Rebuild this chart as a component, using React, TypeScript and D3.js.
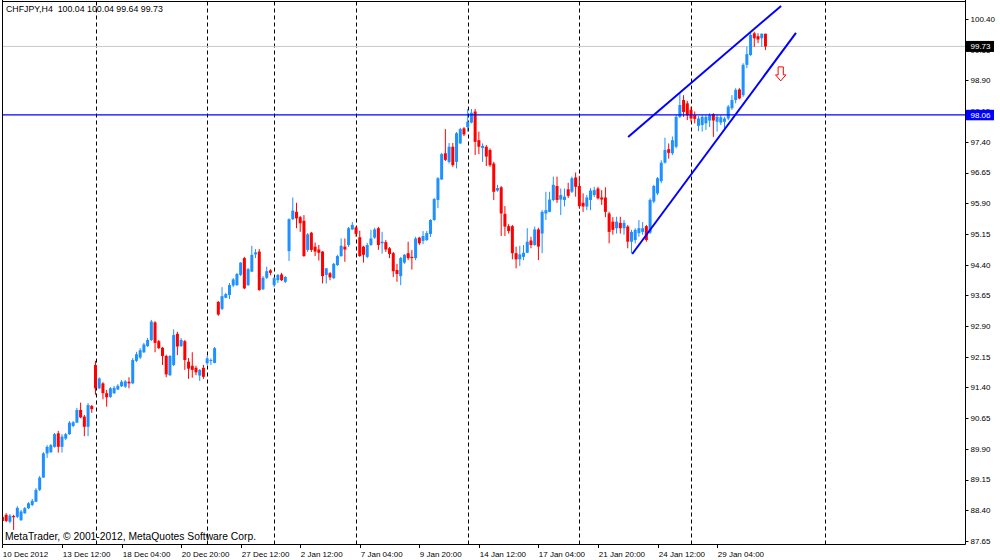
import React from 'react';
import * as d3 from 'd3';

const symbol = 'CHFJPY';
const timeframe = 'H4';

// H4 candles (bar 0 = left edge)
const opens = [
  88.24, 88.29, 88.12, 88.26, 88.24, 88.16, 88.33, 88.45, 88.53, 88.61,
  88.90, 89.20, 89.79, 89.82, 89.95, 90.28, 89.95, 90.15, 90.26, 90.46,
  90.54, 90.85, 90.69, 90.44, 90.95, 91.95, 91.38, 91.50, 91.26, 91.17,
  91.26, 91.35, 91.43, 91.42, 91.54, 91.50, 92.05, 92.13, 92.26, 92.41,
  92.56, 92.99, 92.53, 92.37, 92.17, 91.70, 91.95, 92.71, 92.41, 92.53,
  92.03, 91.93, 91.88, 91.69, 91.88, 91.99, 92.05, 92.00, 93.49, 93.32,
  93.59, 93.66, 93.89, 93.90, 94.15, 94.56, 93.90, 94.23, 94.65, 94.72,
  93.80, 94.08, 94.26, 93.90, 94.02, 94.16, 93.98, 94.73, 95.51, 95.69,
  95.56, 95.47, 94.76, 95.18, 94.84, 94.77, 94.72, 94.15, 94.19, 94.07,
  94.39, 94.61, 94.84, 94.88, 95.26, 95.31, 95.07, 94.84, 94.59, 94.88,
  95.06, 95.29, 94.92, 94.95, 94.80, 94.68, 94.27, 94.12, 94.45, 94.68,
  94.59, 94.56, 95.06, 94.98, 95.00, 95.15, 95.49, 95.98, 96.48, 97.12,
  96.91, 97.28, 96.91, 97.36, 97.73, 97.76, 97.87, 98.14, 97.44, 97.25,
  97.28, 97.20, 96.87, 96.21, 96.29, 95.64, 95.34, 95.34, 94.68, 94.53,
  94.59, 94.69, 94.99, 94.88, 95.26, 95.16, 95.65, 95.69, 95.98, 96.32,
  95.99, 95.98, 96.24, 96.18, 96.53, 96.32, 95.91, 95.82, 95.98, 96.10,
  96.26, 96.04, 96.04, 95.65, 95.45, 95.29, 95.42, 95.29, 95.33, 94.96,
  95.00, 95.17, 95.20, 95.34, 95.18, 95.94, 96.14, 96.44, 96.89, 97.22,
  97.12, 97.28, 98.01, 98.42, 98.34, 98.18, 98.05, 97.79, 97.81, 97.85,
  97.92, 98.08, 97.89, 97.87, 97.89, 97.97, 98.22, 98.42, 98.68, 98.54,
  99.28, 99.52, 100.05, 99.98, 99.93, 100.04,
];
const highs = [
  88.28, 88.33, 88.31, 88.29, 88.50, 88.41, 88.48, 88.60, 88.68, 88.94,
  89.24, 89.82, 89.99, 90.02, 90.29, 90.34, 90.26, 90.29, 90.58, 90.58,
  90.90, 91.03, 90.73, 91.02, 90.97, 92.05, 91.65, 91.53, 91.34, 91.41,
  91.44, 91.48, 91.58, 91.58, 91.65, 92.12, 92.27, 92.36, 92.49, 92.61,
  93.05, 93.02, 92.56, 92.39, 92.20, 92.19, 92.82, 92.76, 92.61, 92.56,
  92.12, 92.26, 91.93, 91.85, 91.95, 92.17, 92.11, 92.39, 93.51, 93.85,
  93.71, 93.95, 94.07, 94.20, 94.46, 94.59, 94.32, 94.86, 94.78, 94.78,
  94.12, 94.35, 94.29, 94.10, 94.17, 94.20, 94.12, 95.53, 96.04, 95.91,
  95.59, 95.61, 95.17, 95.20, 94.94, 94.88, 94.73, 94.32, 94.22, 94.44,
  94.64, 95.04, 95.04, 95.32, 95.44, 95.34, 95.23, 94.86, 94.93, 95.25,
  95.30, 95.32, 95.20, 95.00, 94.83, 94.71, 94.42, 94.59, 94.66, 94.96,
  94.76, 95.08, 95.08, 95.22, 95.22, 95.51, 96.03, 96.54, 97.13, 97.71,
  97.37, 97.37, 97.64, 97.74, 97.76, 98.20, 98.20, 98.20, 97.65, 97.36,
  97.32, 97.24, 96.91, 96.35, 96.32, 95.83, 95.39, 95.37, 94.84, 94.86,
  94.88, 95.29, 95.08, 95.33, 95.30, 95.73, 96.18, 96.18, 96.55, 96.55,
  96.26, 96.26, 96.40, 96.55, 96.65, 96.57, 96.14, 96.10, 96.27, 96.30,
  96.30, 96.22, 96.29, 95.69, 95.56, 95.57, 95.57, 95.49, 95.37, 95.25,
  95.29, 95.49, 95.44, 95.37, 96.02, 96.35, 96.54, 96.95, 97.50, 97.36,
  97.53, 98.06, 98.59, 98.54, 98.40, 98.26, 98.14, 98.03, 98.05, 98.05,
  98.10, 98.10, 98.05, 98.05, 98.01, 98.30, 98.54, 98.71, 98.71, 99.32,
  99.72, 100.09, 100.09, 100.05, 100.05, 100.04,
];
const lows = [
  88.11, 88.11, 88.08, 87.92, 88.21, 88.14, 88.31, 88.43, 88.50, 88.60,
  88.87, 89.19, 89.68, 89.80, 89.93, 89.81, 89.81, 90.12, 90.24, 90.43,
  90.53, 90.65, 90.21, 90.21, 90.78, 91.22, 91.36, 91.11, 90.93, 91.14,
  91.24, 91.34, 91.41, 91.39, 91.38, 91.48, 92.02, 92.09, 92.24, 92.39,
  92.53, 92.26, 92.34, 91.95, 91.65, 91.68, 91.92, 92.19, 92.39, 91.83,
  91.61, 91.64, 91.70, 91.56, 91.61, 91.95, 91.95, 91.99, 93.15, 93.29,
  93.58, 93.56, 93.85, 93.88, 94.12, 93.80, 93.88, 94.22, 94.56, 93.76,
  93.78, 94.05, 94.14, 93.85, 93.95, 94.00, 93.95, 94.49, 95.49, 95.29,
  95.20, 94.59, 94.71, 94.71, 94.61, 94.50, 93.94, 93.94, 94.02, 94.05,
  94.37, 94.59, 94.47, 94.83, 95.25, 95.08, 94.59, 94.45, 94.56, 94.86,
  95.03, 94.76, 94.67, 94.71, 94.56, 94.10, 93.98, 93.90, 94.42, 94.51,
  94.28, 94.51, 94.88, 94.90, 94.98, 95.08, 95.47, 95.78, 96.47, 96.93,
  96.87, 96.79, 96.75, 97.35, 97.54, 97.65, 97.85, 97.08, 97.10, 96.91,
  96.81, 96.79, 95.98, 96.18, 95.10, 95.10, 95.16, 94.53, 94.31, 94.37,
  94.51, 94.68, 94.80, 94.86, 94.51, 94.68, 95.49, 95.68, 95.95, 95.91,
  95.61, 95.82, 96.03, 96.15, 96.06, 95.78, 95.69, 95.73, 95.73, 96.05,
  95.99, 95.86, 95.56, 94.92, 95.13, 95.16, 95.16, 95.13, 94.80, 94.68,
  94.92, 95.08, 95.13, 94.96, 95.15, 95.90, 96.10, 96.39, 96.87, 96.99,
  97.08, 97.24, 97.98, 98.01, 97.93, 97.89, 97.85, 97.66, 97.65, 97.69,
  97.76, 97.52, 97.65, 97.81, 97.69, 97.93, 98.18, 98.34, 98.44, 98.50,
  99.20, 99.50, 99.72, 99.81, 99.72, 99.64,
];
const closes = [
  88.14, 88.14, 88.27, 88.23, 88.46, 88.37, 88.45, 88.57, 88.63, 88.90,
  89.20, 89.79, 89.95, 89.99, 90.26, 89.95, 90.20, 90.26, 90.54, 90.55,
  90.85, 90.67, 90.44, 90.97, 90.87, 91.38, 91.62, 91.26, 91.16, 91.38,
  91.39, 91.44, 91.54, 91.55, 91.50, 92.07, 92.21, 92.31, 92.45, 92.56,
  93.01, 92.49, 92.36, 92.17, 91.72, 92.17, 92.68, 92.40, 92.56, 92.07,
  91.86, 91.83, 91.77, 91.83, 91.66, 92.11, 92.07, 92.36, 93.18, 93.63,
  93.68, 93.90, 94.04, 94.17, 94.45, 93.82, 94.29, 94.64, 94.70, 93.78,
  94.08, 94.24, 94.20, 94.07, 94.15, 94.02, 94.10, 95.51, 95.72, 95.53,
  95.41, 94.61, 95.14, 94.76, 94.72, 94.69, 94.12, 94.31, 94.09, 94.42,
  94.61, 94.86, 94.77, 95.29, 95.37, 95.15, 94.61, 94.64, 94.88, 95.04,
  95.26, 94.88, 94.96, 94.77, 94.66, 94.24, 94.17, 94.56, 94.64, 94.56,
  94.56, 95.04, 94.92, 95.10, 95.17, 95.49, 96.00, 96.51, 97.10, 96.96,
  97.28, 96.83, 97.61, 97.71, 97.58, 97.89, 98.11, 97.40, 97.28, 97.30,
  97.04, 96.83, 96.18, 96.27, 95.65, 95.33, 95.22, 94.68, 94.53, 94.65,
  94.69, 94.96, 94.88, 95.26, 94.84, 95.69, 95.73, 95.99, 96.35, 95.98,
  96.10, 96.06, 96.08, 96.51, 96.30, 95.83, 95.82, 96.04, 96.21, 96.22,
  96.02, 95.99, 95.69, 95.20, 95.25, 95.45, 95.29, 95.42, 94.96, 95.20,
  95.25, 95.29, 95.29, 95.00, 95.98, 96.32, 96.51, 96.89, 97.20, 97.13,
  97.44, 98.01, 98.30, 98.13, 98.05, 97.97, 97.96, 97.97, 98.01, 98.01,
  98.05, 97.92, 98.01, 98.00, 97.97, 98.26, 98.42, 98.67, 98.46, 99.28,
  99.54, 100.01, 99.93, 99.90, 100.04, 99.73,
];

const priceTicks = [
  100.4, 99.65, 98.9, 98.15, 97.4, 96.65, 95.9, 95.15, 94.4, 93.65,
  92.9, 92.15, 91.4, 90.65, 89.9, 89.15, 88.4, 87.65,
];
const timeLabels = [
  '10 Dec 2012', '13 Dec 12:00', '18 Dec 04:00', '20 Dec 20:00', '27 Dec 12:00',
  '2 Jan 12:00', '7 Jan 04:00', '9 Jan 20:00', '14 Jan 12:00', '17 Jan 04:00',
  '21 Jan 20:00', '24 Jan 12:00', '29 Jan 04:00',
];
const timeLabelBars = [0, 16, 32, 48, 64, 80, 96, 112, 128, 144, 160, 176, 192];
const periodSeparatorBars = [25, 55, 73, 95, 125, 155, 185, 221];

const horizontalLinePrice = 98.06;
const trendLines: [number, number][][] = [
  [[168.1, 97.52], [209.2, 100.72]],
  [[169.2, 94.66], [213.2, 100.06]],
];
const arrowBar = 209.1;
const arrowPrice = 99.23;
const copyright = 'MetaTrader, \u00A9 2001-2012, MetaQuotes Software Corp.';

export default function App() {
  const W = 1000;
  const H = 560;
  const fl = 2.5, ft = 1.5, fr = 965.5, fb = 544.5;
  const n = opens.length;
  const x = d3.scaleLinear().domain([0, n - 1]).range([2.45, 2.45 + (n - 1) * 3.722]);
  const y = d3.scaleLinear().domain([87.65, 100.4]).range([541, 19]);
  const bull = '#1E90FF';
  const bear = '#FF0000';
  const fmt = d3.format('.2f');
  const last = n - 1;
  const header = `${symbol},${timeframe}  ${fmt(opens[last])} ${fmt(highs[last])} ${fmt(lows[last])} ${fmt(closes[last])}`;
  const bid = closes[last];
  const line = d3.line<[number, number]>().x((d) => x(d[0])).y((d) => y(d[1]));
  const font = "'Liberation Sans', Arial, sans-serif";
  const ax = x(arrowBar);
  const ay = y(arrowPrice);

  return (
    <svg width={W} height={H} style={{ position: 'absolute', left: 0, top: 0, background: '#fff' }}>
      <rect x={0} y={0} width={W} height={H} fill="#fff" />
      <defs>
        <clipPath id="plotClip">
          <rect x={fl} y={ft} width={fr - fl} height={fb - ft} />
        </clipPath>
      </defs>
      <g clipPath="url(#plotClip)">
        {periodSeparatorBars.map((b) => (
          <line key={b} x1={Math.round(x(b)) + 0.5} x2={Math.round(x(b)) + 0.5} y1={ft} y2={fb}
            stroke="#000" strokeWidth={1} strokeDasharray="4,3" />
        ))}
        <line x1={fl} x2={fr} y1={y(bid)} y2={y(bid)} stroke="#c8c8c8" strokeWidth={1} />
        {opens.map((o, i) => {
          const c = closes[i];
          const up = c >= o;
          const col = up ? bull : bear;
          const cx = x(i);
          const top = y(Math.max(o, c));
          const bot = y(Math.min(o, c));
          return (
            <g key={i}>
              <line x1={cx} x2={cx} y1={y(highs[i])} y2={y(lows[i])} stroke={col} strokeWidth={1} />
              <rect x={cx - 1.5} y={top} width={3} height={Math.max(1, bot - top)} fill={col} />
            </g>
          );
        })}
        <line x1={fl} x2={fr} y1={y(horizontalLinePrice)} y2={y(horizontalLinePrice)} stroke="#0000ff" strokeWidth={1.2} />
        {trendLines.map((t, k) => (
          <path key={k} d={line(t) || ''} stroke="#0000ff" strokeWidth={2} fill="none" />
        ))}
        <path
          d={`M${ax - 2.6},${ay} L${ax + 2.6},${ay} L${ax + 2.6},${ay + 8} L${ax + 5.2},${ay + 8} L${ax},${ay + 14} L${ax - 5.2},${ay + 8} L${ax - 2.6},${ay + 8} Z`}
          fill="#fff" stroke="#ff0000" strokeWidth={1}
        />
      </g>
      {/* frame */}
      <line x1={fl} x2={fl} y1={0} y2={fb} stroke="#000" />
      <line x1={fl} x2={fr} y1={ft} y2={ft} stroke="#000" />
      <line x1={fr} x2={fr} y1={0} y2={fb} stroke="#000" />
      <line x1={fl} x2={fr} y1={fb} y2={fb} stroke="#000" />

      {/* price axis */}
      {priceTicks.map((p) => (
        <g key={p}>
          <line x1={fr} x2={fr + 3} y1={Math.round(y(p)) + 0.5} y2={Math.round(y(p)) + 0.5} stroke="#000" />
          <text x={970.5} y={y(p) + 2.9} fontFamily={font} fontSize={8} fill="#000">{fmt(p)}</text>
        </g>
      ))}
      <rect x={966} y={y(bid) - 5.5} width={28} height={11} fill="#000" />
      <text x={970.5} y={y(bid) + 2.9} fontFamily={font} fontSize={8} fill="#fff">{fmt(bid)}</text>
      <rect x={966} y={y(horizontalLinePrice) - 5} width={28} height={10.5} fill="#0000ff" />
      <text x={970.5} y={y(horizontalLinePrice) + 2.9} fontFamily={font} fontSize={8} fill="#fff">{fmt(horizontalLinePrice)}</text>

      {/* time axis */}
      {timeLabels.map((lab, k) => {
        const tx = Math.round(x(timeLabelBars[k])) + 0.5;
        return (
          <g key={lab}>
            <line x1={tx} x2={tx} y1={fb} y2={fb + 3.5} stroke="#000" />
            <text x={tx + 0.3} y={556.5} fontFamily={font} fontSize={8} fill="#000">{lab}</text>
          </g>
        );
      })}

      <text x={6} y={12} fontFamily={font} fontSize={8.8} fill="#000" style={{ whiteSpace: 'pre' }}>{header}</text>
      <text x={5} y={540} fontFamily={font} fontSize={10.3} fill="#000">{copyright}</text>
    </svg>
  );
}
